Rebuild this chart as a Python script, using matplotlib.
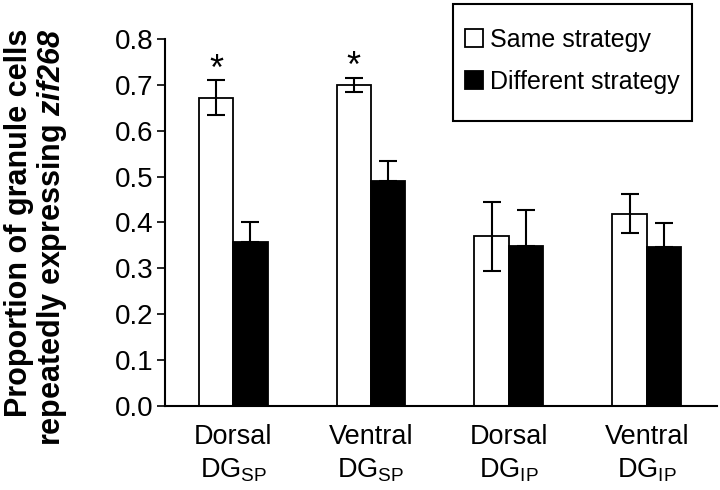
import matplotlib
matplotlib.use("Agg")
import matplotlib.pyplot as plt
from matplotlib.patches import Rectangle
import numpy as np

plt.rcParams['font.family'] = ['Liberation Sans', 'DejaVu Sans']
plt.rcParams['mathtext.fontset'] = 'custom'
plt.rcParams['mathtext.rm'] = 'Liberation Sans'
plt.rcParams['mathtext.it'] = 'Liberation Sans:italic'
plt.rcParams['mathtext.bf'] = 'Liberation Sans:bold:italic'

groups = [r"Dorsal" "\n" r"$\mathrm{DG}_{\mathrm{SP}}$",
          r"Ventral" "\n" r"$\mathrm{DG}_{\mathrm{SP}}$",
          r"Dorsal" "\n" r"$\mathrm{DG}_{\mathrm{IP}}$",
          r"Ventral" "\n" r"$\mathrm{DG}_{\mathrm{IP}}$"]
same = [0.672, 0.699, 0.370, 0.419]
same_err = [0.038, 0.016, 0.075, 0.043]
diff = [0.357, 0.491, 0.348, 0.346]
diff_err = [0.045, 0.042, 0.080, 0.052]
signif = [True, True, False, False]

fig = plt.figure(figsize=(7.2, 4.9), dpi=100)
ax = fig.add_axes([0.229, 0.171, 0.767, 0.750])

x = np.arange(len(groups))
w = 0.25
eb = dict(ecolor='black', elinewidth=1.5, capsize=6.5, capthick=1.5)
b1 = ax.bar(x - w / 2, same, w, color='white', edgecolor='black', linewidth=1.3,
            yerr=same_err, error_kw=eb, label='Same strategy', zorder=2)
b2 = ax.bar(x + w / 2, diff, w, color='black', edgecolor='black', linewidth=1.3,
            yerr=[np.zeros(len(diff)), diff_err], error_kw=eb, label='Different strategy', zorder=2)

# significance marks
for xi, s, e, sig in zip(x, same, same_err, signif):
    if sig:
        ax.text(xi - w / 2, s + e + 0.001, '*', ha='center', va='baseline', fontsize=26)

ax.set_xlim(-0.495, 3.51)
ax.set_ylim(0, 0.8)
yt = np.arange(0, 0.81, 0.1)
ax.set_yticks(yt)
ax.set_yticklabels([f"{v:.1f}" for v in yt], fontsize=20)
ax.set_xticks(x)
ax.set_xticklabels(groups, fontsize=19.5, linespacing=1.3)
ax.tick_params(axis='x', length=0, pad=13)
ax.tick_params(axis='y', length=6, width=1.2, pad=2)
for side in ['top', 'right']:
    ax.spines[side].set_visible(False)
ax.spines['left'].set_linewidth(1.5)
ax.spines['bottom'].set_linewidth(1.5)

fig.text(0.051, 0.516, "Proportion of granule cells\nrepeatedly expressing $\\mathbf{zif268}$",
         rotation=90, ha='center', va='center', multialignment='right',
         fontsize=22, fontweight='bold', linespacing=1.02)

# legend box
fig.patches.append(Rectangle((453 / 720, 1 - 121 / 490), 239 / 720, 117 / 490,
                             transform=fig.transFigure, facecolor='none',
                             edgecolor='black', linewidth=1.5))
fig.legend(handles=[b1, b2], loc='upper left', bbox_to_anchor=(465 / 720, 1 - 28 / 490),
           fontsize=18, frameon=False, handlelength=0.7, handleheight=0.7,
           handletextpad=0.32, borderpad=0, labelspacing=0.72, borderaxespad=0)

fig.savefig('out.png', dpi=100)
